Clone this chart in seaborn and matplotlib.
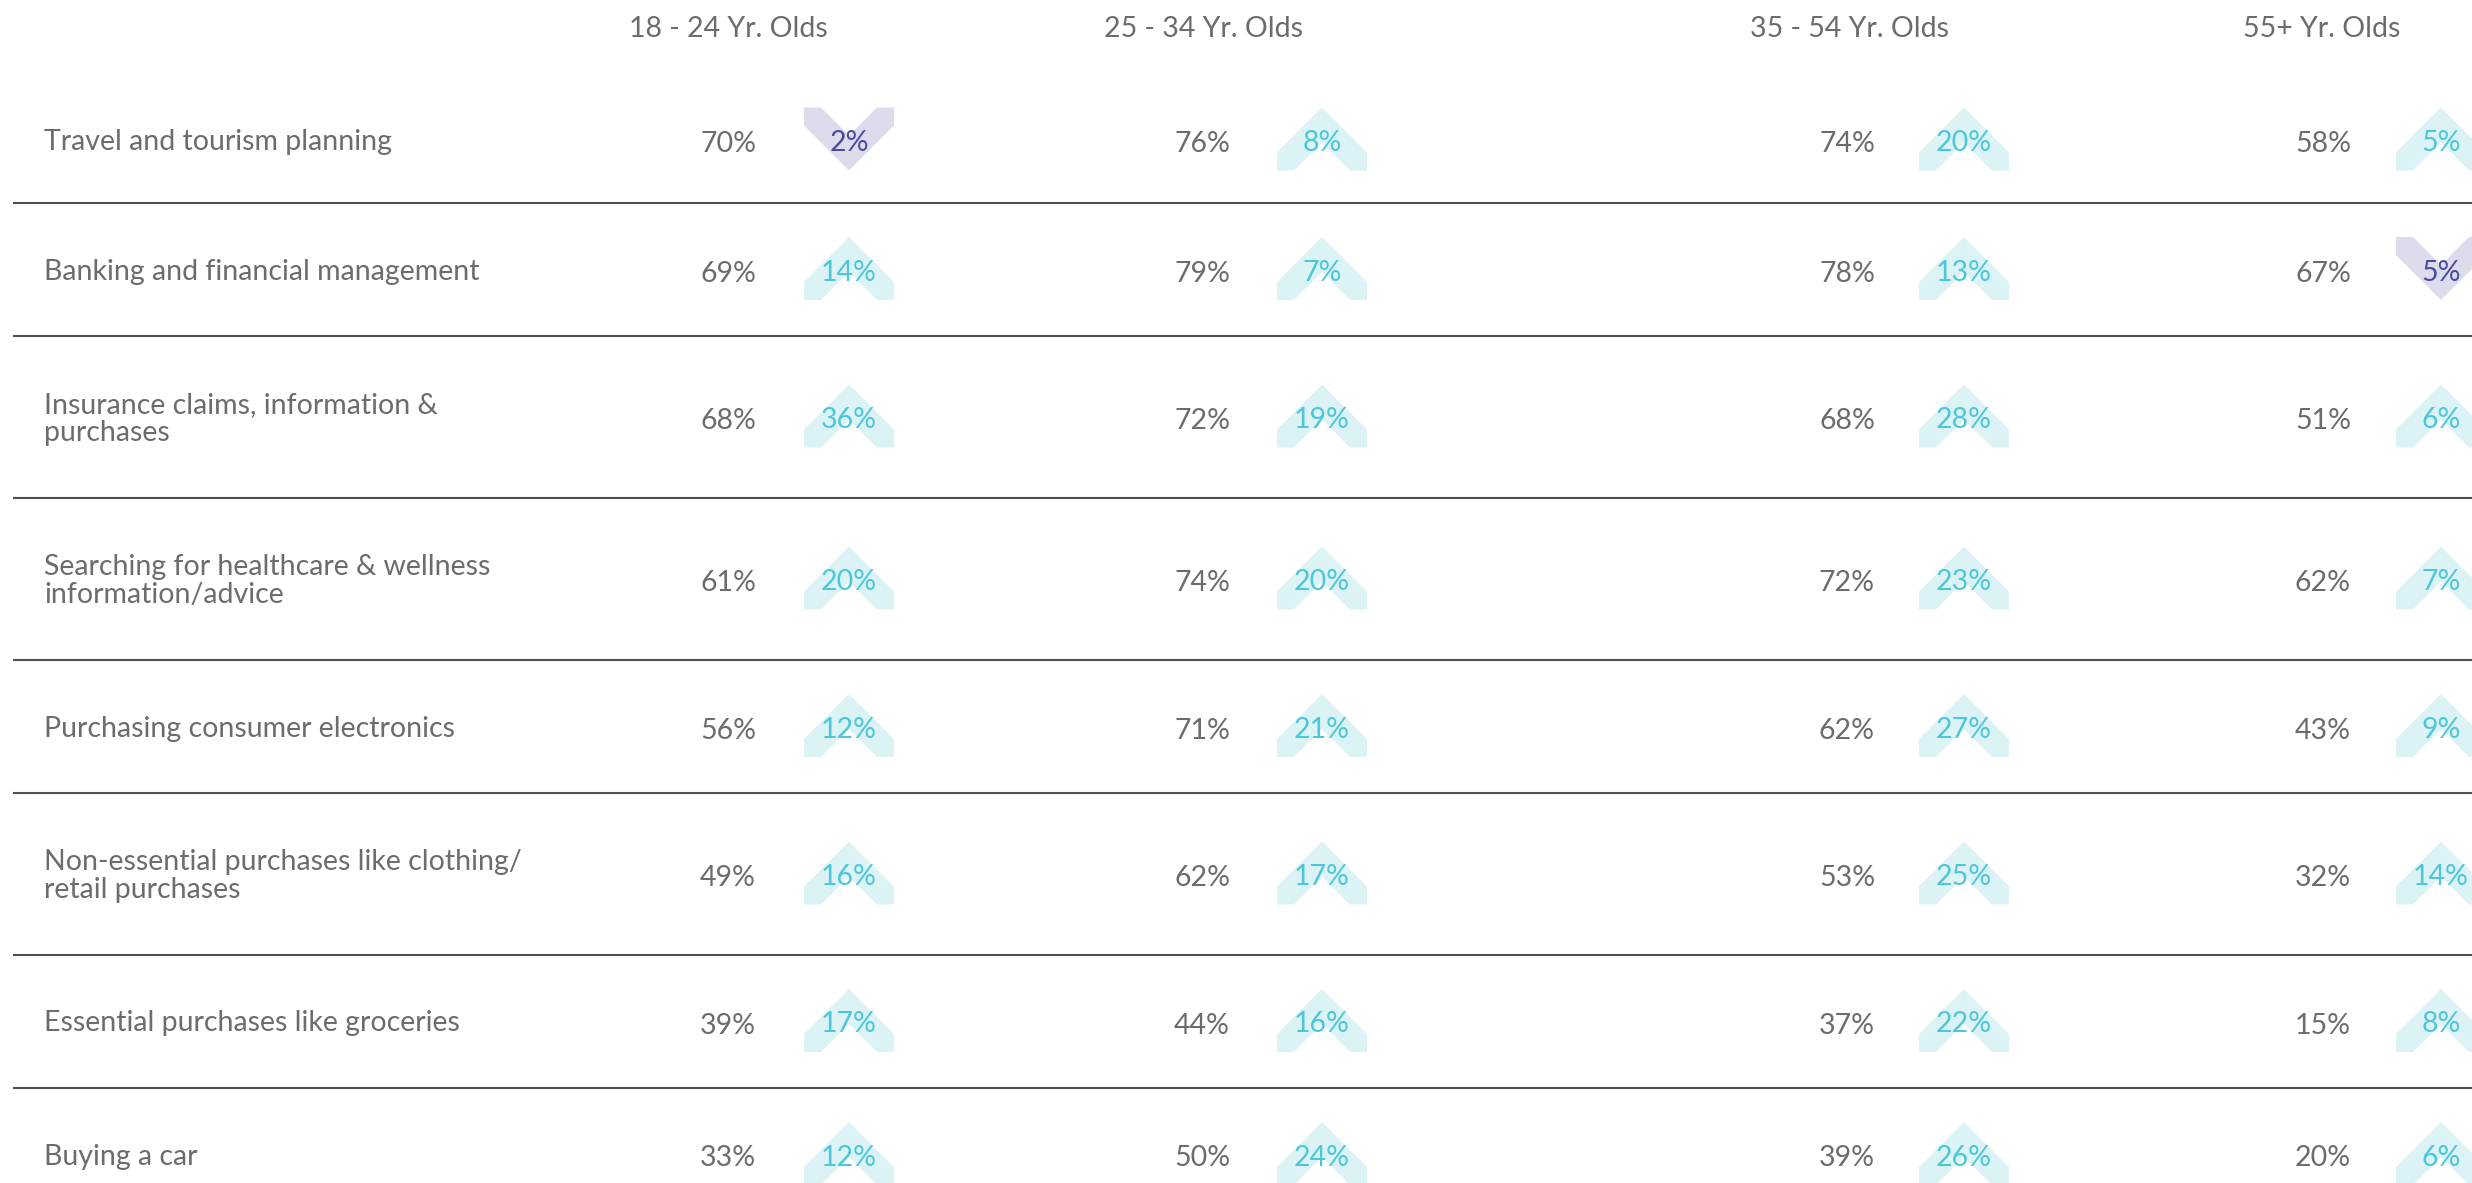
import pandas as pd
import seaborn as sns
import matplotlib.pyplot as plt
from matplotlib.path import Path

categories = [
    "Travel and tourism planning",
    "Banking and financial management",
    "Insurance claims, information &\npurchases",
    "Searching for healthcare & wellness\ninformation/advice",
    "Purchasing consumer electronics",
    "Non-essential purchases like clothing/\nretail purchases",
    "Essential purchases like groceries",
    "Buying a car",
]
age_groups = ["18 - 24 Yr. Olds", "25 - 34 Yr. Olds", "35 - 54 Yr. Olds", "55+ Yr. Olds"]

share_18_24 = [70, 69, 68, 61, 56, 49, 39, 33]
share_25_34 = [76, 79, 72, 74, 71, 62, 44, 50]
share_35_54 = [74, 78, 68, 72, 62, 53, 37, 39]
share_55_plus = [58, 67, 51, 62, 43, 32, 15, 20]

change_18_24 = [-2, 14, 36, 20, 12, 16, 17, 12]
change_25_34 = [8, 7, 19, 20, 21, 17, 16, 24]
change_35_54 = [20, 13, 28, 23, 27, 25, 22, 26]
change_55_plus = [5, -5, 6, 7, 9, 14, 8, 6]

shares = [share_18_24, share_25_34, share_35_54, share_55_plus]
changes = [change_18_24, change_25_34, change_35_54, change_55_plus]

# layout in pixels (figure is 2472 x 1183 at dpi 100)
W, H = 2472, 1183
header_x = [728, 1203, 1849, 2322]
value_right = [756, 1230, 1875, 2351]
arrow_x = [849, 1322, 1964, 2441]
label_x = 44
top = 77

row_h = [133 if "\n" not in c else 162 for c in categories]
row_h[0] -= 7  # first row has no rule above it
edges = [top]
for h in row_h:
    edges.append(edges[-1] + h)
centers = [(edges[i] + edges[i + 1]) / 2 for i in range(len(categories))]

# chevron markers
up_verts = [(0, 31.5), (45, -13.5), (45, -31.5), (28, -31.5), (0, -3.5),
            (-28, -31.5), (-45, -31.5), (-45, -13.5), (0, 31.5)]
codes = [Path.MOVETO] + [Path.LINETO] * 7 + [Path.CLOSEPOLY]
up_arrow = Path(up_verts, codes)
down_arrow = Path([(x, -y) for x, y in up_verts], codes)

rows = []
for g in range(len(age_groups)):
    for i in range(len(categories)):
        rows.append({
            "x": arrow_x[g],
            "y": centers[i] - 1,
            "change": changes[g][i],
            "dir": "up" if changes[g][i] >= 0 else "down",
        })
df = pd.DataFrame(rows)

sns.set_theme(style="white")
plt.rcParams["font.family"] = ["Lato", "DejaVu Sans"]

text_grey = "#6b6b70"
fill_cols = {"up": "#dcf3f6", "down": "#dcdcec"}
txt_cols = {"up": "#4cc6da", "down": "#4b4ba3"}
fs = 20.5

fig = plt.figure(figsize=(W / 100, H / 100), dpi=100)
ax = fig.add_axes([0, 0, 1, 1])

sns.scatterplot(data=df, x="x", y="y", hue="dir", style="dir",
                palette=fill_cols, markers={"up": up_arrow, "down": down_arrow},
                s=64.8 ** 2, linewidth=0, legend=False, ax=ax)

for _, r in df.iterrows():
    ax.text(r["x"], r["y"] + 4, f"{abs(r['change'])}%", ha="center", va="center",
            fontsize=fs, color=txt_cols[r["dir"]])

for g, name in enumerate(age_groups):
    ax.text(header_x[g], 29, name, ha="center", va="center", fontsize=fs, color=text_grey)
    for i in range(len(categories)):
        ax.text(value_right[g], centers[i] + 4, f"{shares[g][i]}%", ha="right",
                va="center", fontsize=fs, color=text_grey)

for i, cat in enumerate(categories):
    ax.text(label_x, centers[i] + 2, cat, ha="left", va="center", fontsize=fs,
            color=text_grey, linespacing=1.12)

ax.hlines(edges[1:-1], 13, W, color="#505050", lw=1.5)

ax.set_xlim(0, W)
ax.set_ylim(H, 0)
ax.axis("off")

fig.savefig("out.png", dpi=100)
